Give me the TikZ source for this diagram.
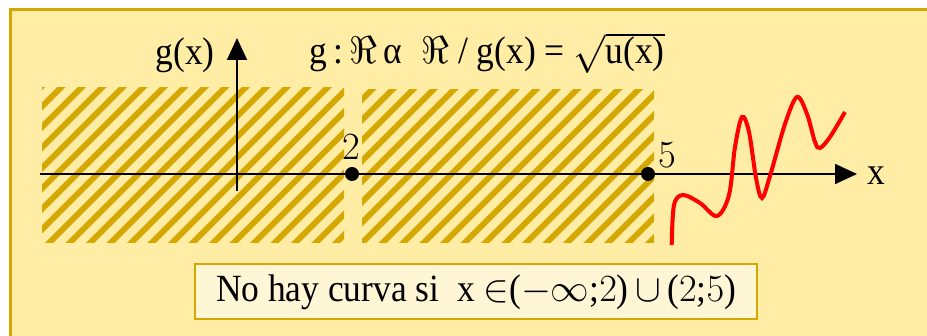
\documentclass[tikz,border=0pt]{standalone}
\usepackage{fix-cm}
\usepackage[no-math]{fontspec}
\setmainfont{Liberation Serif}[FakeStretch=0.92]
\usetikzlibrary{arrows.meta}
\definecolor{bgyel}{HTML}{FFEDA6}
\definecolor{gold}{HTML}{D4A800}
\definecolor{boxfill}{HTML}{FFF6D6}
\tikzset{
  hatchline/.style={gold, line width=6pt},
  axisline/.style={black, line width=1.8pt},
  axisarrow/.style={axisline, -{Triangle[length=22pt,width=20pt]}},
  dot/.style={circle, fill=black, inner sep=0pt, minimum size=14pt},
  bigtext/.style={font=\fontsize{38.5}{42}\selectfont, inner sep=0pt},
  notebox/.style={draw=gold, line width=2pt, fill=boxfill, minimum width=562pt, minimum height=55pt, inner sep=0pt, font=\fontsize{38.5}{42}\selectfont},
  wave/.style={red, line width=4pt}
}
\begin{document}
\begin{tikzpicture}[x=1pt,y=-1pt]
\useasboundingbox (0,0) rectangle (927,336);
% background panel
\fill[white] (0,0) rectangle (927,336);
\draw[gold, line width=3pt, fill=bgyel] (10,9.5) rectangle (940,350);
% hatched regions
\begin{scope}
  \clip (42,88) rectangle (344,243);
  \foreach \k in {-9,...,16} {
    \draw[hatchline] ({42+20.5*\k},250) -- ({42+20.5*\k+170},80);
  }
\end{scope}
\begin{scope}
  \clip (362,90) rectangle (654,243);
  \foreach \k in {-9,...,16} {
    \draw[hatchline] ({355+20.5*\k},250) -- ({355+20.5*\k+170},80);
  }
\end{scope}
% axes
\coordinate (xstart) at (40,174);
\coordinate (xend) at (857,174);
\coordinate (ystart) at (237,191);
\coordinate (yend) at (237,38);
\draw[axisarrow] (ystart) -- (yend);
\draw[axisarrow] (xstart) -- (xend);
% points
\node[dot] (p2) at (352,174) {};
\node[dot] (p5) at (648,174) {};
\node[bigtext, anchor=base] (l2) at (351,160) {$2$};
\node[bigtext, anchor=base] (l5) at (667,168) {$5$};
\node[bigtext, anchor=base] (lx) at (876,185) {x};
\node[bigtext, anchor=base] (lg) at (185,65) {g(x)};
% title
\node[bigtext, anchor=base west] (title) at (309,64)
  {g\,:\,$\Re$\,α\enspace$\Re$ / g(x) = $\sqrt{\mbox{u(x)}}$};
% red curve
\draw[wave] plot[smooth, tension=0.55] coordinates {
  (671.7,245) (674,205) (683,195) (700,203) (717,216) (729,195)
  (735,147) (742,117) (749,132) (756,178) (762,198) (770,176)
  (785,124) (797,97) (807,114) (815,142) (820,148) (830,137) (845,112)};
% note box
\node[notebox] (note) at (476,292) {No hay curva si\ \ x $\in$($-\infty$;$2$)$\,\cup\,$($2$;$5$)};
\end{tikzpicture}
\end{document}
